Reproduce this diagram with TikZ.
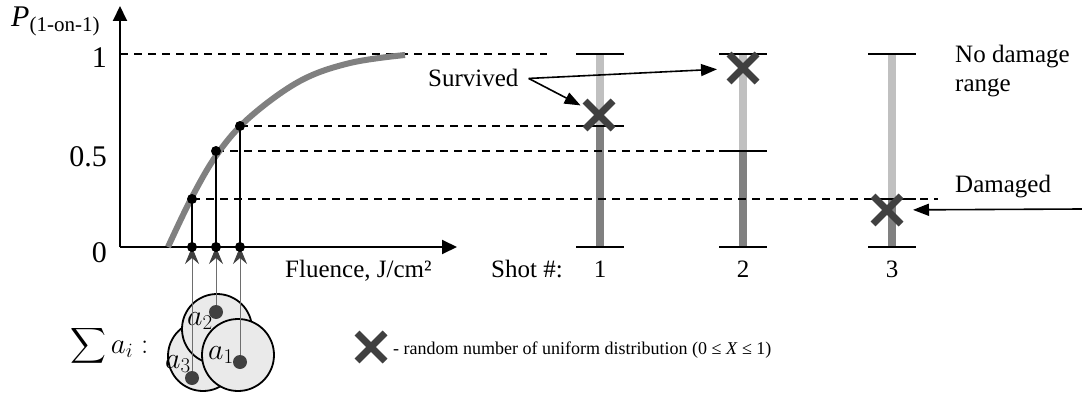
\RequirePackage{fix-cm}
\documentclass[tikz,border=0pt]{standalone}
\usepackage{fontspec}
\setmainfont{Liberation Serif}
\usepackage{amsmath}
\usetikzlibrary{arrows.meta, positioning, shapes.misc}
\definecolor{curveGray}{RGB}{128,128,128}
\definecolor{barLight}{RGB}{192,192,192}
\definecolor{barDark}{RGB}{128,128,128}
\definecolor{crossDark}{RGB}{64,64,64}
\definecolor{spotFill}{RGB}{234,234,234}
\definecolor{pinGray}{RGB}{110,110,110}

\begin{document}
\begin{tikzpicture}[x=1pt, y=-1pt,
axis/.style={line width=2pt, -{Triangle[length=15pt,width=14pt]}},
guide/.style={dash pattern=on 8pt off 6pt, line width=1.4pt},
level/.style={line width=1.6pt},
lightbar/.style={line width=8pt, draw=barLight},
darkbar/.style={line width=8pt, draw=barDark},
dot/.style={circle, fill=black, inner sep=0pt, minimum size=10pt},
spot/.style={circle, fill=crossDark, inner sep=0pt, minimum size=14pt},
defect/.style={circle, draw=black, line width=1.8pt, fill=spotFill, inner sep=0pt},
pin/.style={draw=pinGray, line width=0.9pt, -{Stealth[length=17pt,width=14pt,inset=6pt,color=crossDark]}},
pointer/.style={line width=1.6pt, -{Triangle[length=16pt,width=12pt]}},
xmark/.style={cross out, draw=crossDark, line width=7pt, minimum size=21pt, inner sep=0pt},
txt/.style={inner sep=0pt, font=\fontsize{25}{29}\selectfont},
bigtxt/.style={inner sep=0pt, font=\fontsize{30}{34}\selectfont},
mathtxt/.style={inner sep=0pt, font=\fontsize{30}{33}\selectfont},
smalltxt/.style={inner sep=0pt, font=\fontsize{18}{22}\selectfont}]

\useasboundingbox (0,0) rectangle (1082,396);

% axes
\coordinate (origin) at (120,247);
\coordinate (ytip) at (120,6);
\coordinate (xtip) at (457,247);
\draw[axis] (origin) -- (ytip);
\draw[axis] (origin) -- (xtip);

\node[txt, anchor=base west] (plabel) at (11,27)
    {\fontsize{30}{30}\selectfont\textit{P}\raisebox{-5pt}{\fontsize{21}{21}\selectfont(1-on-1)}};
\node[bigtxt, anchor=base east] (lone) at (107,68) {1};
\node[bigtxt, anchor=base east] (lhalf) at (107,166) {0.5};
\node[bigtxt, anchor=base east] (lzero) at (107,262) {0};

% shots
\coordinate (s1top) at (600,54);
\coordinate (s1mid) at (600,126);
\coordinate (s1bot) at (600,247);
\coordinate (s2top) at (743,54);
\coordinate (s2mid) at (743,151);
\coordinate (s2bot) at (743,247);
\coordinate (s3top) at (892,54);
\coordinate (s3mid) at (892,199);
\coordinate (s3bot) at (892,247);

\draw[lightbar] (s1top) -- (s1mid);
\draw[darkbar]  (s1mid) -- (s1bot);
\draw[lightbar] (s2top) -- (s2mid);
\draw[darkbar]  (s2mid) -- (s2bot);
\draw[lightbar] (s3top) -- (s3mid);
\draw[darkbar]  (s3mid) -- (s3bot);

% dashed guides
\coordinate (yone) at (120,54);
\coordinate (yoneend) at (547,54);
\coordinate (p1) at (192,199);
\coordinate (p2) at (216,151);
\coordinate (p3) at (240,126);
\draw[guide] (yone) -- (yoneend);
\draw[guide] (p3) -- ([xshift=-24pt]s1mid);
\draw[guide] (p2) -- ([xshift=-24pt]s2mid);
\draw[guide] (p1) -- ([xshift=46pt]s3mid);

\draw[level] ([xshift=-24pt]s1top) -- ([xshift=24pt]s1top);
\draw[level] ([xshift=-24pt]s1mid) -- ([xshift=24pt]s1mid);
\draw[level] ([xshift=-24pt]s1bot) -- ([xshift=24pt]s1bot);
\draw[level] ([xshift=-24pt]s2top) -- ([xshift=24pt]s2top);
\draw[level] ([xshift=-24pt]s2mid) -- ([xshift=24pt]s2mid);
\draw[level] ([xshift=-24pt]s2bot) -- ([xshift=24pt]s2bot);
\draw[level] ([xshift=-24pt]s3top) -- ([xshift=24pt]s3top);
\draw[level] ([xshift=-24pt]s3mid) -- ([xshift=24pt]s3mid);
\draw[level] ([xshift=-24pt]s3bot) -- ([xshift=24pt]s3bot);

% probability curve
\draw[line width=6pt, curveGray] plot[smooth, tension=0.6] coordinates
    {(168,247) (192,197) (218,153) (250,117) (300,81) (350,63) (405,55)};

% fluences of the defects
\coordinate (q1) at (192,247);
\coordinate (q2) at (216,247);
\coordinate (q3) at (240,247);
\draw[line width=1.2pt] (p1) -- (q1);
\draw[line width=1.2pt] (p2) -- (q2);
\draw[line width=1.2pt] (p3) -- (q3);

\node[defect, minimum size=70pt] (a3disc) at (203,356) {};
\node[defect, minimum size=70pt] (a2disc) at (217,329) {};
\node[defect, minimum size=72pt] (a1disc) at (238,355) {};

\node[mathtxt, anchor=base west] (a2lab) at (187,325) {$a_2$};
\node[mathtxt, anchor=base west] (a1lab) at (208,359) {$a_1$};
\node[mathtxt, anchor=base west] (a3lab) at (165,368) {$a_3$};

\coordinate (d1) at (240,362);
\coordinate (d2) at (216,312);
\coordinate (d3) at (192,378);
\draw[pin] (d3) -- (q1);
\draw[pin] (d2) -- (q2);
\draw[pin] (d1) -- (q3);
\node[spot] (d1spot) at (d1) {};
\node[spot] (d2spot) at (d2) {};
\node[spot] (d3spot) at (d3) {};

\node[dot] (p1dot) at (p1) {};
\node[dot] (p2dot) at (p2) {};
\node[dot] (p3dot) at (p3) {};
\node[dot] (q1dot) at (q1) {};
\node[dot] (q2dot) at (q2) {};
\node[dot] (q3dot) at (q3) {};

\node[inner sep=0pt, anchor=base west, font=\fontsize{29}{32}\selectfont] (sumlab) at (70,353)
    {$\displaystyle\sum a_i :$};

% labels under the axis
\node[txt, anchor=base west] (fluence) at (285,277) {Fluence, J/cm²};
\node[txt, anchor=base west] (shotno) at (491,277) {Shot \#:};
\node[txt, anchor=base] (n1) at (600,277) {1};
\node[txt, anchor=base] (n2) at (743,277) {2};
\node[txt, anchor=base] (n3) at (892,277) {3};

% random numbers
\node[xmark] (x1) at (599,115) {};
\node[xmark] (x2) at (743,68) {};
\node[xmark] (x3) at (887,210) {};

\node[txt, anchor=base west] (surv) at (428,87) {Survived};
\coordinate[right=10pt of surv.east] (survtail);
\draw[pointer, shorten >=5pt] (survtail) -- (x1);
\draw[pointer, shorten >=12pt] (survtail) -- (x2);

\node[txt, anchor=base west] (nodmg) at (955,63) {No damage};
\node[txt, anchor=base west] (range) at (955,92) {range};
\node[txt, anchor=base west] (dmg) at (955,192) {Damaged};
\coordinate (dmgstart) at (1082,209);
\draw[pointer, shorten >=12pt] (dmgstart) -- (x3);

% legend
\node[xmark] (xlegend) at (371,347) {};
\node[smalltxt, anchor=base west] (legend) at (393,354)
    {- random number of uniform distribution (0 ≤ \textit{X} ≤ 1)};
\end{tikzpicture}
\end{document}
